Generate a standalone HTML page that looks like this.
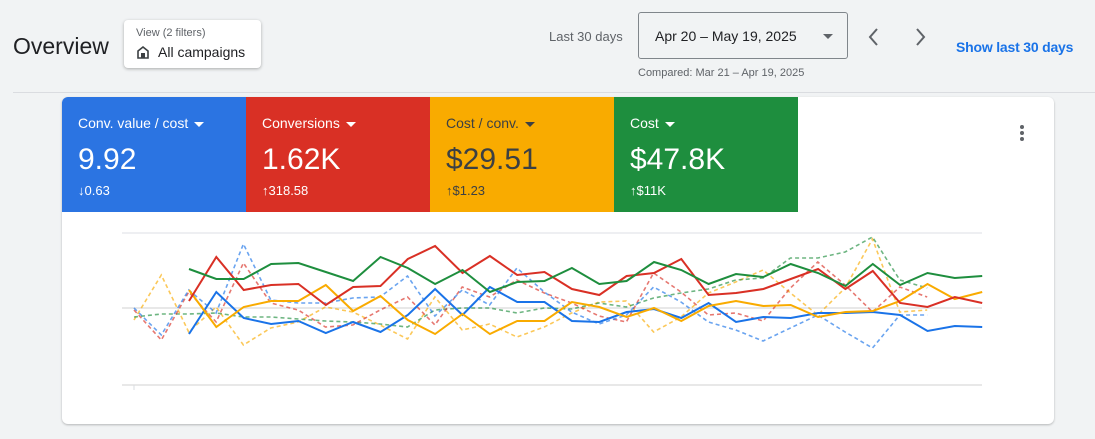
<!DOCTYPE html>
<html><head><meta charset="utf-8"><style>
body{margin:0;width:1095px;height:439px;background:#f1f3f4;font-family:"Liberation Sans",Arial,sans-serif;position:relative;overflow:hidden;color:#202124}
.a{position:absolute;white-space:nowrap}
.tile{position:absolute;top:97px;height:115px;width:184px;color:#fff}
.tile .l{position:absolute;left:16px;top:18px;font-size:14px}
.tile .v{position:absolute;left:16px;top:46px;font-size:30px}
.tile .d{position:absolute;left:16px;top:86px;font-size:13px}
.car{display:inline-block;width:0;height:0;border-left:5px solid transparent;border-right:5px solid transparent;border-top:5px solid currentColor;vertical-align:middle;margin-left:6px}
</style></head><body>
<div class="a" style="left:13px;top:33px;font-size:23px;color:#202124">Overview</div>
<div class="a" style="left:124px;top:20px;width:137px;height:48px;background:#fff;border-radius:4px;box-shadow:0 1px 3px rgba(0,0,0,.3)">
 <div class="a" style="left:12px;top:7px;font-size:11px;color:#5f6368">View (2 filters)</div>
 <svg class="a" style="left:12px;top:25px" width="14" height="14" viewBox="0 0 14 14"><path d="M2 6 L7 2 L12 6 V13 H2 Z" fill="none" stroke="#3c4043" stroke-width="1.6"/><rect x="5" y="8" width="4" height="5" fill="#3c4043"/></svg>
 <div class="a" style="left:34px;top:24px;font-size:14px;color:#202124">All campaigns</div>
</div>
<div class="a" style="left:549px;top:29px;font-size:13px;color:#5f6368">Last 30 days</div>
<div class="a" style="left:638px;top:12px;width:210px;height:47px;border:1px solid #80868b;border-radius:3px;box-sizing:border-box">
 <div class="a" style="left:16px;top:15px;font-size:14px;color:#202124">Apr 20 – May 19, 2025</div>
 <div class="a" style="left:184px;top:21px;width:0;height:0;border-left:5px solid transparent;border-right:5px solid transparent;border-top:5px solid #5f6368"></div>
</div>
<div class="a" style="left:638px;top:67px;font-size:11px;color:#5f6368">Compared: Mar 21 – Apr 19, 2025</div>
<svg class="a" style="left:862px;top:26px" width="70" height="22"><path d="M15 3 L8 11 L15 19" fill="none" stroke="#5f6368" stroke-width="2"/><path d="M55 3 L62 11 L55 19" fill="none" stroke="#5f6368" stroke-width="2"/></svg>
<div class="a" style="left:956px;top:39px;font-size:14px;font-weight:bold;color:#1a73e8;letter-spacing:-0.2px">Show last 30 days</div>
<div class="a" style="left:13px;top:92px;width:1082px;height:1px;background:#dadce0"></div>
<div class="a" style="left:62px;top:97px;width:992px;height:327px;background:#fff;border-radius:6px;box-shadow:0 1px 2px rgba(0,0,0,.25)"></div>
<div class="tile" style="left:62px;background:#2b74e2;border-top-left-radius:6px"><div class="l">Conv. value / cost<span class="car"></span></div><div class="v">9.92</div><div class="d">↓0.63</div></div>
<div class="tile" style="left:246px;background:#d93025"><div class="l">Conversions<span class="car"></span></div><div class="v">1.62K</div><div class="d">↑318.58</div></div>
<div class="tile" style="left:430px;background:#f9ab00;color:#3c4043"><div class="l">Cost / conv.<span class="car"></span></div><div class="v">$29.51</div><div class="d">↑$1.23</div></div>
<div class="tile" style="left:614px;background:#1e8e3e"><div class="l">Cost<span class="car"></span></div><div class="v">$47.8K</div><div class="d">↑$11K</div></div>
<svg class="a" style="left:1016px;top:124px" width="12" height="20"><circle cx="6" cy="3" r="2" fill="#5f6368"/><circle cx="6" cy="9" r="2" fill="#5f6368"/><circle cx="6" cy="15" r="2" fill="#5f6368"/></svg>
<svg id="ch" class="a" style="left:0;top:0" width="1095" height="439">
 <line x1="122" y1="233" x2="982" y2="233" stroke="#e8eaed" stroke-width="1.5"/>
 <line x1="122" y1="308" x2="982" y2="308" stroke="#e0e0e0" stroke-width="1.5"/>
 <line x1="122" y1="385" x2="982" y2="385" stroke="#e0e0e0" stroke-width="1.5"/>
 <line x1="134" y1="385" x2="134" y2="390" stroke="#dadce0"/>
</svg>
<script>
var s=document.getElementById('ch'),NS='http://www.w3.org/2000/svg';
function pl(vals,x0,c,dash){var p=[];for(var i=0;i<vals.length;i++)p.push((x0+i*27.35).toFixed(1)+','+vals[i]);var e=document.createElementNS(NS,'polyline');e.setAttribute('points',p.join(' '));e.setAttribute('fill','none');e.setAttribute('stroke',c);e.setAttribute('stroke-width',dash?1.6:2);if(dash){e.setAttribute('stroke-dasharray','4 3');e.setAttribute('opacity','0.65');}s.appendChild(e);}
pl([320,275,332,307,345,328,322,307,312,325,339,297,330,324,337,327,313,302,301,332,317,293,282,270,293,315,288,239,312,310],134,'#f9ab00',1);
pl([317,314,314,313,317,317,319,321,322,324,327,310,308,308,313,308,309,303,307,298,293,289,280,278,258,258,252,237,280,288],134,'#1e8e3e',1);
pl([310,340,292,322,263,303,310,327,325,310,297,325,287,297,280,293,303,316,322,273,292,315,313,321,288,262,285,312,287,297],134,'#d93025',1);
pl([308,335,290,313,244,300,303,303,298,297,276,316,290,305,268,292,312,324,315,287,302,322,330,341,328,315,332,348,315,315],134,'#1a73e8',1);
pl([334,292,318,324,321,333,322,332,315,289,315,287,302,302,321,322,312,309,318,303,322,317,318,313,313,312,315,331,326,327],189,'#1a73e8');
pl([290,327,307,301,301,285,311,296,320,334,314,334,321,321,302,307,317,308,321,306,301,306,305,317,312,311,301,284,299,292],189,'#f9ab00');
pl([301,257,290,285,284,305,287,286,259,246,273,256,275,272,289,295,276,273,259,295,293,289,279,269,289,271,303,307,297,303],189,'#d93025');
pl([269,279,279,264,263,272,281,257,268,284,270,292,282,281,268,284,281,262,270,284,274,277,264,273,286,264,285,273,278,276],189,'#1e8e3e');
</script>
</body></html>
